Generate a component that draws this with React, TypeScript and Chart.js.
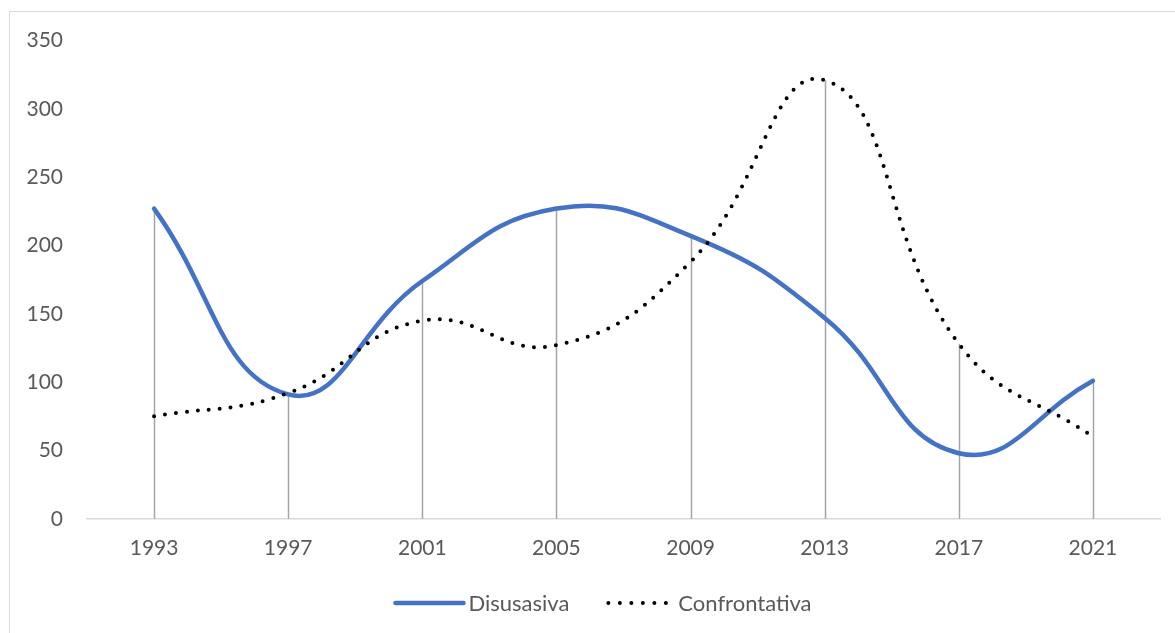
import React, { useEffect, useRef } from "react";
import { Chart, registerables } from "chart.js";

Chart.register(...registerables);

const years = ["1993", "1997", "2001", "2005", "2009", "2013", "2017", "2021"];
const disusasiva = [227, 91, 174, 227, 207, 147, 48, 101];
const confrontativa = [75, 92, 145, 127, 188, 321, 128, 60];
const yTicks = [0, 50, 100, 150, 200, 250, 300, 350];

const FONT = "Lato, 'Open Sans', sans-serif";
const TEXT = "#595959";
const BLUE = "#4472C4";

const dropLines = {
  id: "dropLines",
  beforeDatasetsDraw(chart: any) {
    const { ctx, scales } = chart;
    const x = scales.x;
    const y = scales.y;
    ctx.save();
    ctx.strokeStyle = "#A5A5A5";
    ctx.lineWidth = 1.5;
    years.forEach((_, i) => {
      const top = Math.max(disusasiva[i], confrontativa[i]);
      const px = Math.round(x.getPixelForValue(i)) + 0.5;
      ctx.beginPath();
      ctx.moveTo(px, y.getPixelForValue(top));
      ctx.lineTo(px, y.getPixelForValue(0));
      ctx.stroke();
    });
    ctx.restore();
  },
};

const customLegend = {
  id: "customLegend",
  afterDraw(chart: any) {
    const { ctx } = chart;
    ctx.save();
    ctx.font = `22px ${FONT}`;
    ctx.textBaseline = "middle";
    const items = [
      { label: "Disusasiva", dotted: false },
      { label: "Confrontativa", dotted: true },
    ];
    const sample = 72;
    const gapText = 3;
    const gapItem = 34;
    const widths = items.map((it) => sample + gapText + ctx.measureText(it.label).width);
    const total = widths.reduce((a, b) => a + b, 0) + gapItem;
    let x = chart.width / 2 + 10 - total / 2;
    const yc = chart.height - 31;
    items.forEach((it, i) => {
      ctx.save();
      if (it.dotted) {
        ctx.strokeStyle = "#000";
        ctx.lineWidth = 4;
        ctx.lineCap = "round";
        ctx.setLineDash([0, 11.5]);
        ctx.beginPath();
        ctx.moveTo(x + 5, yc);
        ctx.lineTo(x + sample - 3, yc);
        ctx.stroke();
      } else {
        ctx.strokeStyle = BLUE;
        ctx.lineWidth = 4.5;
        ctx.lineCap = "round";
        ctx.beginPath();
        ctx.moveTo(x + 2, yc);
        ctx.lineTo(x + sample - 2, yc);
        ctx.stroke();
      }
      ctx.restore();
      ctx.fillStyle = TEXT;
      ctx.fillText(it.label, x + sample + gapText, yc + 1);
      x += widths[i] + gapItem;
    });
    ctx.restore();
  },
};

export default function App() {
  const ref = useRef<HTMLCanvasElement | null>(null);
  useEffect(() => {
    if (!ref.current) return;
    const chart = new Chart(ref.current, {
      type: "line",
      data: {
        labels: years,
        datasets: [
          {
            label: "Disusasiva",
            data: disusasiva,
            borderColor: BLUE,
            backgroundColor: BLUE,
            borderWidth: 4.5,
            borderCapStyle: "round",
            tension: 0.45,
            pointRadius: 0,
            order: 1,
          },
          {
            label: "Confrontativa",
            data: confrontativa,
            borderColor: "#000",
            backgroundColor: "#000",
            borderWidth: 4,
            borderCapStyle: "round",
            borderDash: [0, 11],
            tension: 0.45,
            pointRadius: 0,
            order: 0,
          },
        ],
      },
      options: {
        animation: false,
        responsive: false,
        maintainAspectRatio: false,
        layout: { padding: { top: 28.5, right: 15, bottom: 56, left: 0 } },
        plugins: {
          legend: { display: false },
          tooltip: { enabled: false },
        },
        scales: {
          x: {
            offset: true,
            grid: { display: false, drawTicks: false },
            border: { display: true, color: "#D9D9D9", width: 1.5 },
            ticks: { color: TEXT, font: { size: 21, family: FONT }, padding: 17, maxRotation: 0 },
          },
          y: {
            min: 0,
            max: 350,
            afterBuildTicks(scale: any) {
              scale.ticks = yTicks.map((v) => ({ value: v }));
            },
            afterFit(scale: any) {
              scale.width = 77;
              scale.paddingTop = 0;
              scale.paddingBottom = 0;
            },
            grid: { display: false, drawTicks: false },
            border: { display: false },
            ticks: { color: TEXT, font: { size: 21, family: FONT }, padding: 24 },
          },
        },
      },
      plugins: [dropLines, customLegend],
    });
    return () => chart.destroy();
  }, []);
  return (
    <div
      style={{
        position: "absolute",
        left: 9,
        top: 11,
        width: 1180,
        height: 640,
        borderLeft: "1.5px solid #D9D9D9",
        borderTop: "1.5px solid #D9D9D9",
        background: "#fff",
      }}
    >
      <canvas ref={ref} width={1165} height={622} style={{ display: "block", width: 1165, height: 622 }} />
    </div>
  );
}
